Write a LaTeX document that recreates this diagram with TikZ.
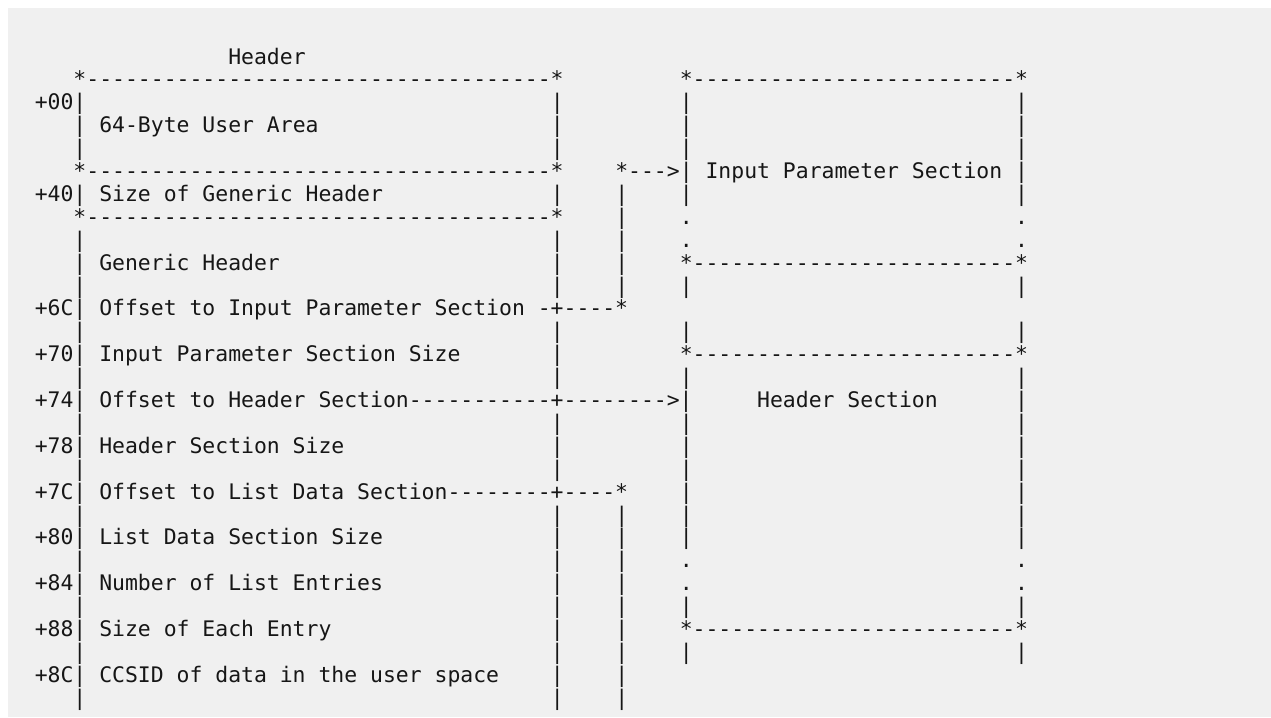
\documentclass[tikz,border=0pt]{standalone}
\usepackage{fontspec}
\newfontfamily\asciifont{DejaVu Sans Mono}
\ExplSyntaxOn
\NewDocumentCommand\dashrun{m}{\prg_replicate:nn{#1}{-}}
\ExplSyntaxOff
\definecolor{pagegray}{HTML}{F0F0F0}
\definecolor{inkgray}{HTML}{161616}
\tikzset{cell/.style={anchor=base west, inner sep=0pt, text=inkgray,
    font=\asciifont\fontsize{16.07}{19}\selectfont}}
\begin{document}
\begin{tikzpicture}[x=9.675pt, y=-17.175pt]
\useasboundingbox (-2.674,-2.445) rectangle (95.85,28.865);
\fill[pagegray] (-2.054,-2.096) rectangle (95.85,28.865);
% text runs: row/column/text
\path \foreach \r/\c/\t in {0/15/Header,
    1/3/*\dashrun{36}*, 1/50/*\dashrun{25}*,
    2/0/+00|, 3/5/64-Byte User Area,
    5/3/*\dashrun{36}*, 5/45/*\dashrun{3}>| Input Parameter Section |,
    6/0/+40| Size of Generic Header,
    7/3/*\dashrun{36}*, 7/50/{.}, 7/76/{.}, 8/50/{.}, 8/76/{.},
    9/5/Generic Header, 9/50/*\dashrun{25}*,
    11/0/+6C| Offset to Input Parameter Section -+\dashrun{4}*,
    13/0/+70| Input Parameter Section Size, 13/50/*\dashrun{25}*,
    15/0/+74| Offset to Header Section\dashrun{11}+\dashrun{8}>|, 15/56/Header Section,
    17/0/+78| Header Section Size,
    19/0/+7C| Offset to List Data Section\dashrun{8}+\dashrun{4}*,
    21/0/+80| List Data Section Size,
    22/50/{.}, 22/76/{.}, 23/50/{.}, 23/76/{.},
    23/0/+84| Number of List Entries,
    25/0/+88| Size of Each Entry, 25/50/*\dashrun{25}*,
    27/0/+8C| CCSID of data in the user space}{
    (\c,\r+.35) node[cell] (txt-\r-\c) {\t}
};
% vertical bars: row/columns
\path \foreach \r/\cols in {2/{40,50,76}, 3/{3,40,50,76}, 4/{3,40,50,76},
    6/{40,45,50,76}, 7/{45}, 8/{3,40,45}, 9/{3,40,45}, 10/{3,40,45,50,76},
    12/{3,40,50,76}, 13/{40}, 14/{3,40,50,76}, 15/{76}, 16/{3,40,50,76},
    17/{40,50,76}, 18/{3,40,50,76}, 19/{50,76}, 20/{3,40,45,50,76},
    21/{40,45,50,76}, 22/{3,40,45}, 23/{40,45}, 24/{3,40,45,50,76},
    25/{40,45}, 26/{3,40,45,50,76}, 27/{40,45}, 28/{3,40,45}}{
    \foreach \c in \cols {(\c,\r+.35) node[cell] (bar-\r-\c) {|}}
};
\end{tikzpicture}
\end{document}
